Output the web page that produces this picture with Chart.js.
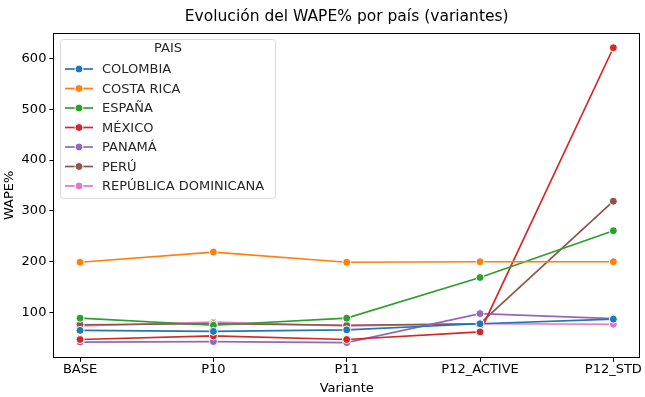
<!DOCTYPE html>
<html><head><meta charset="utf-8">
<script src="https://cdn.jsdelivr.net/npm/chart.js@4/dist/chart.umd.min.js"></script>
<style>html,body{margin:0;padding:0;background:#fff}#wrap{width:645px;height:397px}</style>
</head><body><div id="wrap"><canvas id="c" width="645" height="397"></canvas></div>
<script>
const categories = ["BASE","P10","P11","P12_ACTIVE","P12_STD"];
const colombia = [65, 63, 66, 78, 87];
const costaRica = [199, 219, 199, 200, 200];
const espana = [89, 75, 89, 169, 261];
const mexico = [47, 54, 47, 62, 621];
const panama = [42, 43, 41, 98, 88];
const peru = [76, 78, 75, 78, 319];
const repDom = [74, 81, 74, 78, 77];
const yTicks = [100,200,300,400,500,600];
const seriesNames = ["COLOMBIA","COSTA RICA","ESPAÑA","MÉXICO","PANAMÁ","PERÚ","REPÚBLICA DOMINICANA"];
const seriesData = [colombia, costaRica, espana, mexico, panama, peru, repDom];
const colors = ["#1f77b4","#ff7f0e","#2ca02c","#d62728","#9467bd","#8c564b","#e377c2"];
const chartTitle = 'Evolución del WAPE% por país (variantes)';
const FONT = "'DejaVu Sans', sans-serif";
const FS = 13;

const datasets = seriesNames.map((n,i)=>({
  label:n,
  data: seriesData[i].map((v,j)=>({x:j,y:v})),
  borderColor: colors[i], backgroundColor: colors[i],
  pointBackgroundColor: colors[i], pointBorderColor:'#fff', pointBorderWidth:1,
  pointRadius:4, borderWidth:1.7, tension:0
}));

const framePlugin = {
  id:'frame',
  afterDraw(chart){
    const {ctx, chartArea:a} = chart;
    ctx.save();
    ctx.strokeStyle='#000'; ctx.lineWidth=1;
    ctx.strokeRect(Math.round(a.left)+0.5, Math.round(a.top)+0.5, Math.round(a.right-a.left)-1, Math.round(a.bottom-a.top)-1);
    // title
    ctx.fillStyle='#000'; ctx.font='15.5px '+FONT; ctx.textAlign='center'; ctx.textBaseline='middle';
    ctx.fillText(chartTitle, (a.left+a.right)/2, 17);
    // legend
    const x0=60, y0=39, w=215, h=159;
    ctx.globalAlpha=0.8; ctx.fillStyle='#fff';
    ctx.beginPath(); ctx.roundRect(x0+0.5,y0+0.5,w,h,3); ctx.fill();
    ctx.globalAlpha=1; ctx.strokeStyle='#d9d9d9'; ctx.stroke();
    ctx.fillStyle='#262626'; ctx.font=FS+'px '+FONT; ctx.textBaseline='middle';
    ctx.textAlign='center'; ctx.fillText('PAIS', x0+108, y0+10);
    ctx.textAlign='left';
    chart.data.datasets.forEach((d,i)=>{
      const yy = y0+30+i*19.5;
      ctx.strokeStyle=d.borderColor; ctx.lineWidth=1.7;
      ctx.beginPath(); ctx.moveTo(x0+5,yy); ctx.lineTo(x0+33,yy); ctx.stroke();
      ctx.fillStyle=d.borderColor; ctx.strokeStyle='#fff'; ctx.lineWidth=1;
      ctx.beginPath(); ctx.arc(x0+19,yy,4,0,Math.PI*2); ctx.fill(); ctx.stroke();
      ctx.fillStyle='#262626'; ctx.fillText(d.label, x0+42, yy+1);
    });
    ctx.restore();
  }
};

new Chart(document.getElementById('c'), {
  type:'line',
  data:{datasets},
  options:{
    responsive:false, animation:false, devicePixelRatio:1,
    layout:{padding:{top:33,right:0,left:2,bottom:0}},
    plugins:{
      legend:{display:false}, tooltip:{enabled:false}, title:{display:false}
    },
    scales:{
      x:{type:'linear', min:-0.2, max:4.2,
        afterBuildTicks(s){ s.ticks = categories.map((c,i)=>({value:i})); },
        ticks:{callback:(v)=>categories[v], color:'#000', font:{family:FONT,size:FS}, padding:0, maxRotation:0, autoSkip:false},
        grid:{display:true, drawOnChartArea:false, tickLength:4, tickColor:'#000', color:'#000'},
        border:{display:false},
        title:{display:true, text:'Variante', color:'#000', font:{family:FONT,size:FS}, padding:{top:3,bottom:1}}
      },
      y:{type:'linear', min:11, max:650,
        afterBuildTicks(s){ s.ticks = yTicks.map(v=>({value:v})); },
        ticks:{color:'#000', font:{family:FONT,size:FS}, padding:3},
        grid:{display:true, drawOnChartArea:false, tickLength:4, tickColor:'#000', color:'#000'},
        border:{display:false},
        title:{display:true, text:'WAPE%', color:'#000', font:{family:FONT,size:FS}, padding:{top:0,bottom:1}}
      }
    }
  },
  plugins:[framePlugin]
});
</script></body></html>
